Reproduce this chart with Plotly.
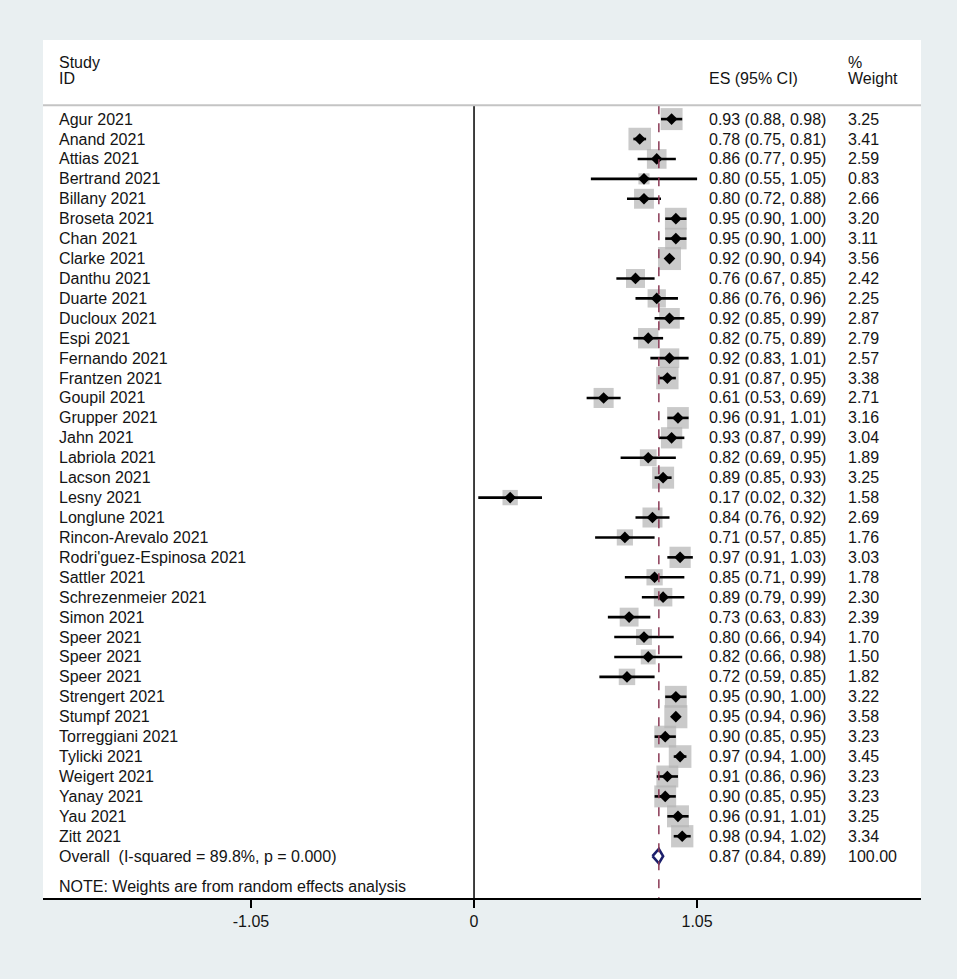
import plotly.graph_objects as go
import numpy as np

studies = ["Agur 2021", "Anand 2021", "Attias 2021", "Bertrand 2021", "Billany 2021",
           "Broseta 2021", "Chan 2021", "Clarke 2021", "Danthu 2021", "Duarte 2021",
           "Ducloux 2021", "Espi 2021", "Fernando 2021", "Frantzen 2021", "Goupil 2021",
           "Grupper 2021", "Jahn 2021", "Labriola 2021", "Lacson 2021", "Lesny 2021",
           "Longlune 2021", "Rincon-Arevalo 2021", "Rodri'guez-Espinosa 2021", "Sattler 2021",
           "Schrezenmeier 2021", "Simon 2021", "Speer 2021", "Speer 2021", "Speer 2021",
           "Strengert 2021", "Stumpf 2021", "Torreggiani 2021", "Tylicki 2021",
           "Weigert 2021", "Yanay 2021", "Yau 2021", "Zitt 2021"]
es = [0.93, 0.78, 0.86, 0.80, 0.80, 0.95, 0.95, 0.92, 0.76, 0.86, 0.92, 0.82, 0.92, 0.91,
      0.61, 0.96, 0.93, 0.82, 0.89, 0.17, 0.84, 0.71, 0.97, 0.85, 0.89, 0.73, 0.80, 0.82,
      0.72, 0.95, 0.95, 0.90, 0.97, 0.91, 0.90, 0.96, 0.98]
lo = [0.88, 0.75, 0.77, 0.55, 0.72, 0.90, 0.90, 0.90, 0.67, 0.76, 0.85, 0.75, 0.83, 0.87,
      0.53, 0.91, 0.87, 0.69, 0.85, 0.02, 0.76, 0.57, 0.91, 0.71, 0.79, 0.63, 0.66, 0.66,
      0.59, 0.90, 0.94, 0.85, 0.94, 0.86, 0.85, 0.91, 0.94]
hi = [0.98, 0.81, 0.95, 1.05, 0.88, 1.00, 1.00, 0.94, 0.85, 0.96, 0.99, 0.89, 1.01, 0.95,
      0.69, 1.01, 0.99, 0.95, 0.93, 0.32, 0.92, 0.85, 1.03, 0.99, 0.99, 0.83, 0.94, 0.98,
      0.85, 1.00, 0.96, 0.95, 1.00, 0.96, 0.95, 1.01, 1.02]
weights = [3.25, 3.41, 2.59, 0.83, 2.66, 3.20, 3.11, 3.56, 2.42, 2.25, 2.87, 2.79, 2.57, 3.38,
           2.71, 3.16, 3.04, 1.89, 3.25, 1.58, 2.69, 1.76, 3.03, 1.78, 2.30, 2.39, 1.70, 1.50,
           1.82, 3.22, 3.58, 3.23, 3.45, 3.23, 3.23, 3.25, 3.34]
overall_label = "Overall  (I-squared = 89.8%, p = 0.000)"
overall_es, overall_lo, overall_hi, overall_w = 0.87, 0.84, 0.89, 100.00
note = "NOTE: Weights are from random effects analysis"
tick_vals = [-1.05, 0, 1.05]
tick_text = ["-1.05", "0", "1.05"]

FONT = "Liberation Sans, Arial, sans-serif"
FS = 16
TXT = "#141414"
BG = "#e9eff1"

n = len(studies)
rows = list(range(n))
overall_row = n
note_row = n + 1.5
y_top, y_bot = -3.97, 39.1
sep_y = -0.70
hdr1, hdr2 = -2.86, -2.06
x_lab, x_es, x_w = -1.963, 1.097, 1.751

fig = go.Figure()

# weight boxes
fig.add_trace(go.Scatter(
    x=es, y=rows, mode="markers",
    marker=dict(symbol="square", color="#b3b3b3",
                size=[12.2 * np.sqrt(w) for w in weights], line=dict(width=0)),
    hoverinfo="skip", showlegend=False))

# CI lines
cx, cy = [], []
for l, h, r in zip(lo, hi, rows):
    cx += [l, h, None]
    cy += [r, r, None]
fig.add_trace(go.Scatter(x=cx, y=cy, mode="lines",
                         line=dict(color="black", width=2.6),
                         hoverinfo="skip", showlegend=False))

# point estimates
fig.add_trace(go.Scatter(x=es, y=rows, mode="markers",
                         marker=dict(symbol="diamond", color="black", size=9),
                         hoverinfo="skip", showlegend=False))

# overall diamond
dh = 0.36
fig.add_trace(go.Scatter(
    x=[overall_lo, overall_es, overall_hi, overall_es, overall_lo],
    y=[overall_row, overall_row - dh, overall_row, overall_row + dh, overall_row],
    mode="lines", line=dict(color="#1c1f6b", width=2.6),
    hoverinfo="skip", showlegend=False))

# reference lines
fig.add_shape(type="line", x0=0, x1=0, y0=sep_y, y1=y_bot, xref="x", yref="y",
              line=dict(color="black", width=1.5))
fig.add_shape(type="line", x0=overall_es, x1=overall_es, y0=sep_y, y1=y_bot,
              xref="x", yref="y", line=dict(color="#8a3a55", width=1.5, dash="dash"))
# header separator
fig.add_shape(type="line", x0=0, x1=1, y0=sep_y, y1=sep_y, xref="paper", yref="y",
              line=dict(color="#c4c4c4", width=2))

ann = []
def txt(x, y, s):
    ann.append(dict(x=x, y=y, xref="x", yref="y", text=s, showarrow=False,
                    xanchor="left", yanchor="middle",
                    font=dict(family=FONT, size=FS, color=TXT)))

txt(x_lab, hdr1, "Study")
txt(x_lab, hdr2, "ID")
txt(x_es, hdr2, "ES (95% CI)")
txt(x_w, hdr1, "%")
txt(x_w, hdr2, "Weight")
for i in range(n):
    txt(x_lab, rows[i], studies[i])
    txt(x_es, rows[i], f"{es[i]:.2f} ({lo[i]:.2f}, {hi[i]:.2f})")
    txt(x_w, rows[i], f"{weights[i]:.2f}")
txt(x_lab, overall_row, overall_label)
txt(x_es, overall_row, f"{overall_es:.2f} ({overall_lo:.2f}, {overall_hi:.2f})")
txt(x_w, overall_row, f"{overall_w:.2f}")
txt(x_lab, note_row, note)

fig.update_layout(
    width=957, height=979,
    margin=dict(l=43, r=36, t=40, b=81),
    paper_bgcolor=BG, plot_bgcolor="white",
    annotations=ann,
    xaxis=dict(range=[-2.029, 2.104], showgrid=False, zeroline=False,
               showline=True, linecolor="black", linewidth=2,
               ticks="outside", ticklen=8, tickwidth=1.5, tickcolor="black",
               tickvals=tick_vals, ticktext=tick_text,
               tickfont=dict(family=FONT, size=FS, color=TXT), fixedrange=True),
    yaxis=dict(range=[y_bot, y_top], visible=False, showgrid=False, zeroline=False,
               fixedrange=True),
)

fig.write_html("out.html", config={"displayModeBar": False},
               post_script="document.body.style.margin='0';"
                           "document.body.style.background='" + BG + "';")
